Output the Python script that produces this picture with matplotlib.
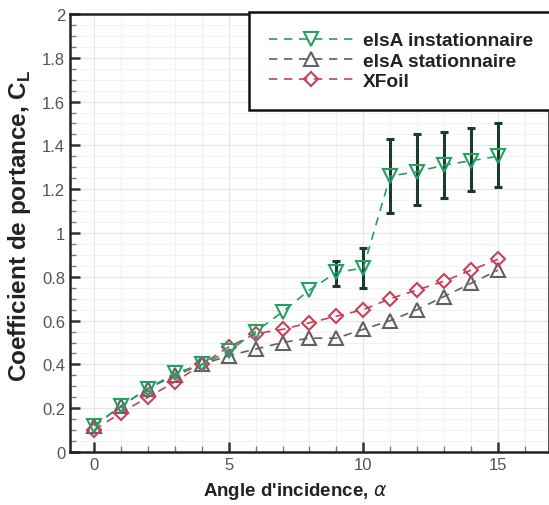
import numpy as np
import matplotlib.pyplot as plt
from matplotlib.ticker import MultipleLocator, FuncFormatter

# ── Data ───────────────────────────────────────────────────────────────
alpha = [0, 1, 2, 3, 4, 5, 6, 7, 8, 9, 10, 11, 12, 13, 14, 15]

cl_unsteady = [0.12, 0.21, 0.29, 0.36, 0.40, 0.46, 0.55, 0.64, 0.74, 0.82,
               0.84, 1.26, 1.28, 1.31, 1.33, 1.35]
cl_steady = [0.12, 0.21, 0.29, 0.35, 0.40, 0.44, 0.47, 0.50, 0.52, 0.52,
             0.56, 0.60, 0.65, 0.71, 0.77, 0.83]
cl_xfoil = [0.10, 0.18, 0.25, 0.32, 0.40, 0.48, 0.54, 0.56, 0.59, 0.62,
            0.65, 0.70, 0.74, 0.78, 0.83, 0.88]

# error bars on the unsteady results (alpha, low, high)
err_alpha = [9, 10, 11, 12, 13, 14, 15]
err_low = [0.76, 0.75, 1.09, 1.13, 1.16, 1.19, 1.21]
err_high = [0.87, 0.93, 1.43, 1.45, 1.46, 1.48, 1.50]

# ── Plot ────────────────────────────────────────────────────────────────
plt.rcParams['font.family'] = ['Liberation Sans', 'DejaVu Sans']

fig = plt.figure(figsize=(5.49, 5.06), dpi=100)
ax = fig.add_axes([0.1275, 0.1047, 0.8725, 0.8657])

green = '#23a064'
grey = '#606060'
red = '#c8405a'

# error bars
err_mid = [(l + h) / 2 for l, h in zip(err_low, err_high)]
err_half = [(h - l) / 2 for l, h in zip(err_low, err_high)]
ax.errorbar(err_alpha, err_mid, yerr=err_half, fmt='none', ecolor='#1e3a28',
            elinewidth=2.2, capsize=3, capthick=2.2, zorder=2)

ms = 9.5
ax.plot(alpha, cl_unsteady, ls=(0, (5, 4)), color=green, lw=1.2, marker='v',
        ms=ms, mfc='none', mec=green, mew=1.5, label='elsA instationnaire', zorder=4)
ax.plot(alpha, cl_steady, ls=(0, (5, 4)), color=grey, lw=1.2, marker='^',
        ms=ms, mfc='none', mec=grey, mew=1.5, label='elsA stationnaire', zorder=3)
ax.plot(alpha, cl_xfoil, ls=(0, (5, 4)), color=red, lw=1.2, marker='D',
        ms=ms * 0.8, mfc='none', mec=red, mew=1.5, label='XFoil', zorder=3)

ax.set_xlim(-0.9, 16.9)
ax.set_ylim(0, 2)
ax.xaxis.set_major_locator(MultipleLocator(5))
ax.xaxis.set_minor_locator(MultipleLocator(1))
ax.yaxis.set_major_locator(MultipleLocator(0.2))
ax.yaxis.set_minor_locator(MultipleLocator(0.05))
ax.yaxis.set_major_formatter(FuncFormatter(lambda v, p: f'{v:g}'))

ax.grid(which='major', color='#e4e4e4', lw=0.8)
ax.grid(which='minor', color='#f0f0f0', lw=0.6)
ax.set_axisbelow(True)

ax.tick_params(which='major', direction='in', length=7, width=1.8, labelsize=12,
               colors='#333333', labelcolor='#555555')
ax.tick_params(which='minor', direction='in', length=4, width=1.0, colors='#777777')
for s in ax.spines.values():
    s.set_linewidth(1.8)
    s.set_color('#222222')

ax.set_xlabel("Angle d'incidence, $\\alpha$", fontsize=13.5, fontweight='bold',
              color='#222222')
ax.xaxis.set_label_coords(0.47, -0.065, transform=ax.transAxes)
ax.xaxis.label.set_va('top')
ax.set_ylabel('Coefficient de portance, C$_\\mathregular{L}$', fontsize=17.5,
              fontweight='bold', color='#222222')
ax.yaxis.set_label_coords(-0.078, 0.52, transform=ax.transAxes)

leg = ax.legend(loc='upper right', bbox_to_anchor=(1.008, 1.005), borderaxespad=0,
                frameon=True, fancybox=False, framealpha=1, edgecolor='#111111',
                handlelength=4.4, borderpad=1.05, labelspacing=0.15,
                handletextpad=0.5, prop={'weight': 'bold', 'size': 13.8})
leg.get_frame().set_linewidth(1.8)
for t in leg.get_texts():
    t.set_color('#222222')

plt.savefig('out.png', dpi=100)
